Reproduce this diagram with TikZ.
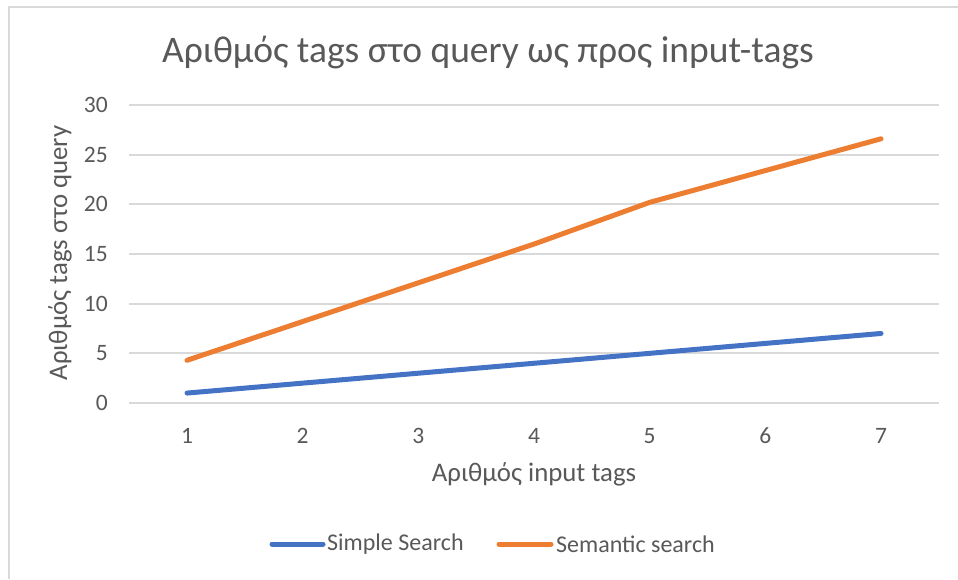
\documentclass[tikz,border=0pt]{standalone}
\usepackage{fontspec}
\setmainfont{Carlito}
\definecolor{txt}{HTML}{595959}
\definecolor{grid}{HTML}{D9D9D9}
\definecolor{simple}{HTML}{4472C4}
\definecolor{semantic}{HTML}{ED7D31}
\begin{document}
\begin{tikzpicture}[x=1pt,y=-1pt,
  gridline/.style={draw=grid,line width=1.8pt},
  series/.style={line width=5pt,line cap=round,line join=round},
  ticklbl/.style={text=txt,font=\fontsize{23.5}{26}\selectfont,inner sep=0pt},
  axtitle/.style={text=txt,font=\fontsize{26.8}{30}\selectfont,inner sep=0pt},
  lgtext/.style={text=txt,font=\fontsize{24}{28}\selectfont,inner sep=0pt,anchor=west}]
\useasboundingbox (0,0) rectangle (958,579);
\fill[white] (0,0) rectangle (958,579);
% chart frame (top and left edges)
\draw[grid,line width=2pt] (8.5,579) -- (8.5,6.5) -- (958,6.5);

% title
\node[text=txt,font=\fontsize{37.5}{42}\selectfont,inner sep=0pt] (title) at (488,53) {Αριθμός tags στο query ως προς input-tags};

% horizontal gridlines and value labels
\foreach \v [count=\k from 0] in {0,5,...,30}{
  \pgfmathsetmacro{\yy}{403-\v*9.933}
  \coordinate (gl\k) at (129,\yy);
  \coordinate (gr\k) at (939,\yy);
  \draw[gridline] (gl\k) -- (gr\k);
  \node[ticklbl,anchor=east] (yl\k) at (108,\yy) {\v};
}

% category labels
\foreach \i in {1,...,7}{
  \pgfmathsetmacro{\xx}{187+(\i-1)*115.67}
  \node[ticklbl] (xl\i) at (\xx,436) {\i};
}

% axis titles
\node[axtitle] (xtitle) at (534,474) {Αριθμός input tags};
\node[axtitle,rotate=90] (ytitle) at (60,253) {Αριθμός tags στο query};

% data points
\foreach \i/\s/\m in {1/1/4.3,2/2/8.2,3/3/12.1,4/4/16.0,5/5/20.2,6/6/23.4,7/7/26.6}{
  \pgfmathsetmacro{\xx}{187+(\i-1)*115.67}
  \coordinate (s\i) at (\xx,{403-\s*9.933});
  \coordinate (m\i) at (\xx,{403-\m*9.933});
}
\draw[series,simple] (s1) -- (s2) -- (s3) -- (s4) -- (s5) -- (s6) -- (s7);
\draw[series,semantic] (m1) -- (m2) -- (m3) -- (m4) -- (m5) -- (m6) -- (m7);

% legend
\coordinate (lb1) at (272,544);
\coordinate (lb2) at (323,544);
\coordinate (lo1) at (499,544);
\coordinate (lo2) at (551,544);
\draw[series,simple] (lb1) -- (lb2);
\draw[series,semantic] (lo1) -- (lo2);
\node[lgtext] (lgs) at (327,544) {Simple Search};
\node[lgtext] (lgm) at (556,544) {Semantic search};
\end{tikzpicture}
\end{document}
